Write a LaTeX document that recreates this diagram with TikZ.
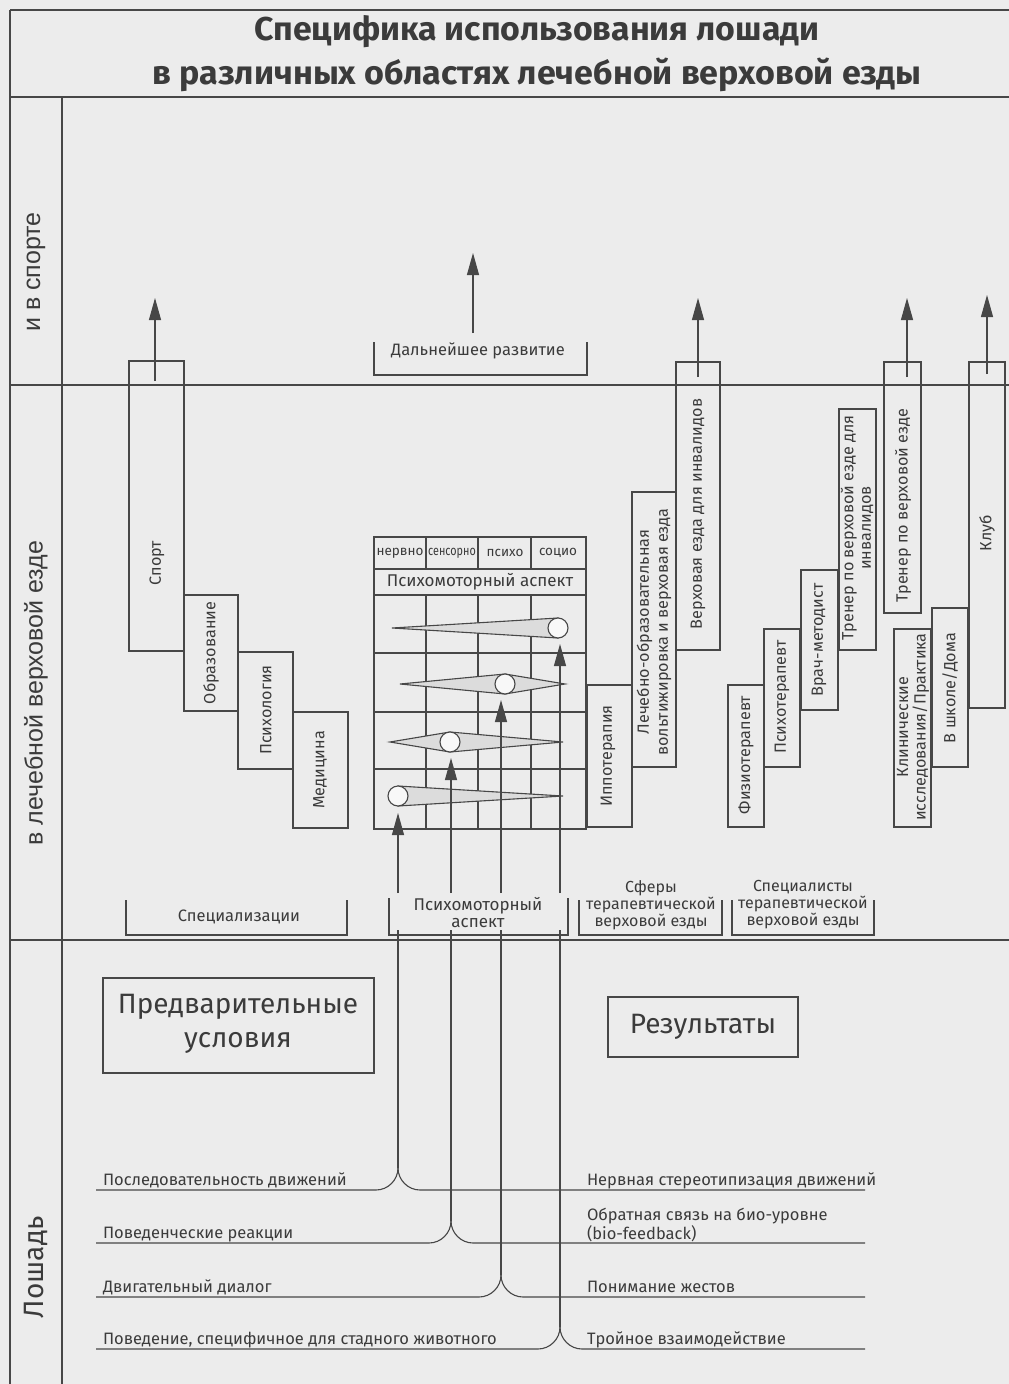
\documentclass[tikz,border=0pt]{standalone}
\usepackage{fontspec}
\usepackage{graphicx}
\setmainfont{Fira Sans}
\newfontfamily\arialf{Liberation Sans}
\usetikzlibrary{arrows.meta}
\definecolor{paper}{HTML}{ECECEC}
\definecolor{ink}{HTML}{474747}
\definecolor{txt}{HTML}{3B3B3B}
\definecolor{conefill}{HTML}{DCDCDC}
\definecolor{dotfill}{HTML}{F8F8F8}
\tikzset{
  every node/.style={inner sep=0pt, outer sep=0pt, text=txt},
  lbl/.style={font=\fontsize{16.5}{18}\selectfont},
  vlbl/.style={font=\fontsize{16.2}{18}\selectfont, rotate=90, align=center},
  vlbltwo/.style={font=\fontsize{16.2}{19}\selectfont, rotate=90, align=center},
  smalllbl/.style={font=\fontsize{13.5}{15}\selectfont},
  biglbl/.style={font=\fontsize{28}{34}\selectfont, align=center},
  bandlbl/.style={rotate=90, font=\arialf\fontsize{25}{27}\selectfont},
  brlbl/.style={font=\fontsize{16}{17}\selectfont, align=center},
  titlelbl/.style={font=\fontsize{33}{36}\selectfont\bfseries, anchor=base},
  upar/.style={draw=ink, line width=1.1pt, -{Triangle[length=22pt,width=12pt]}},
}
\begin{document}
\begin{tikzpicture}[x=1pt, y=-1pt, line width=1.1pt, draw=ink]
\useasboundingbox (0,0) rectangle (1009,1384);
\fill[paper] (0,0) rectangle (1009,1384);

% frame
\draw (10,10) -- (1009,10);
\draw (10,10) -- (10,1384);
\draw (10,97) -- (1009,97);
\draw (62,97) -- (62,1384);
\draw (10,385) -- (1009,385);
\draw (10,940) -- (1009,940);

% title
\node[titlelbl] (title1) at (537,40) {\resizebox{565pt}{\height}{Специфика использования лошади}};
\node[titlelbl] (title2) at (537,84) {\resizebox{769pt}{\height}{в различных областях лечебной верховой езды}};

% band labels
\node[bandlbl] (bandA) at (36,272) {и в спорте};
\node[bandlbl] (bandB) at (36,693) {в лечебной верховой езде};
\node[bandlbl, font=\fontsize{28}{30}\selectfont] (bandC) at (36,1267) {Лошадь};

% specialisations
\draw (129,361) rectangle (184,651);
\draw (184,595) rectangle (238,711);
\draw (238,652) rectangle (293,769);
\draw (293,712) rectangle (348,828);
\node[vlbl] (sport) at (157,563) {Спорт};
\node[vlbl] (obraz) at (211,653) {Образование};
\node[vlbl] (psych) at (266,710) {Психология};
\node[vlbl] (medic) at (320,770) {Медицина};

% spheres
\draw (587,685) rectangle (632,827);
\draw (632,492) rectangle (676,767);
\draw (676,362) rectangle (720,650);
\node[vlbl] (hippo) at (608,756) {Иппотерапия};
\node[vlbltwo] (volt) at (654,632) {Лечебно-образовательная\\вольтижировка и верховая езда};
\node[vlbl] (invride) at (698,514) {Верховая езда для инвалидов};

% specialists
\draw (728,685) rectangle (764,827);
\draw (764,629) rectangle (800,767);
\draw (801,570) rectangle (838,710);
\draw (839,409) rectangle (876,650);
\draw (884,362) rectangle (921,613);
\draw (894,629) rectangle (931,827);
\draw (932,608) rectangle (968,767);
\draw (969,362) rectangle (1005,708);
\node[vlbl] (physio) at (746,755) {Физиотерапевт};
\node[vlbl] (psyth) at (782,697) {Психотерапевт};
\node[vlbl] (doctor) at (819,640) {Врач-методист};
\node[vlbltwo, font=\fontsize{16.2}{17.5}\selectfont] (trinv) at (857,528) {Тренер по верховой езде для\\инвалидов};
\node[vlbl] (trainer) at (903,506) {Тренер по верховой езде};
\node[vlbltwo, font=\fontsize{16.2}{17.5}\selectfont] (clinic) at (913,727) {Клинические\\исследования/Практика};
\node[vlbl] (school) at (950,688) {В школе/Дома};
\node[vlbl] (club) at (987,533) {Клуб};

% upward arrows in the top band
\coordinate (sportS) at (155,381); \coordinate (sportE) at (155,298);
\coordinate (devS) at (473,333);   \coordinate (devE) at (473,253);
\coordinate (invS) at (698,377);   \coordinate (invE) at (698,298);
\coordinate (trS) at (907,377);    \coordinate (trE) at (907,298);
\coordinate (clubS) at (987,374);  \coordinate (clubE) at (987,295);
\draw[upar] (sportS) -- (sportE);
\draw[upar] (devS) -- (devE);
\draw[upar] (invS) -- (invE);
\draw[upar] (trS) -- (trE);
\draw[upar] (clubS) -- (clubE);

% further development bracket
\draw (374,342) -- (374,375) -- (587,375) -- (587,342);
\node[lbl] (dev) at (478,351) {Дальнейшее развитие};

% psychomotor table
\draw (374,537) rectangle (586,829);
\foreach \yy in {569,595,653,712,769} \draw (374,\yy) -- (586,\yy);
\foreach \xx in {426,478,531} {
  \draw (\xx,537) -- (\xx,569);
  \draw (\xx,595) -- (\xx,829);
}
\node[smalllbl] (nerv) at (400,553) {нервно};
\node[smalllbl] (sens) at (452,553) {\scalebox{0.8}[1]{сенсорно}};
\node[smalllbl] (psy) at (505,553) {психо};
\node[smalllbl] (soc) at (558,553) {социо};
\node[lbl, font=\fontsize{17}{18}\selectfont] (pma) at (480,582) {Психомоторный аспект};

% cones
\draw[fill=conefill] (392,628) -- (558,618) -- (558,638) -- cycle;
\draw[fill=conefill] (400,684) -- (505,674) -- (565,684) -- (505,694) -- cycle;
\draw[fill=conefill] (390,742) -- (450,732) -- (563,742) -- (450,752) -- cycle;
\draw[fill=conefill] (398,786) -- (563,796) -- (398,806) -- cycle;
\node[draw=ink, fill=dotfill, circle, minimum size=20pt, line width=1.1pt] (c4) at (558,628) {};
\node[draw=ink, fill=dotfill, circle, minimum size=20pt, line width=1.1pt] (c3) at (505,684) {};
\node[draw=ink, fill=dotfill, circle, minimum size=20pt, line width=1.1pt] (c2) at (450,742) {};
\node[draw=ink, fill=dotfill, circle, minimum size=20pt, line width=1.1pt] (c1) at (398,796) {};

% bottom brackets
\draw (126,900) -- (126,935) -- (347,935) -- (347,900);
\node[lbl] (spec) at (239,917) {Специализации};
\draw (389,898) -- (389,935) -- (568,935) -- (568,898);
\node[brlbl, font=\fontsize{17}{17}\selectfont] (pmb) at (478,913) {Психомоторный\\аспект};
\draw (579,900) -- (579,935) -- (722,935) -- (722,900);
\node[brlbl] (sph) at (651,905) {Сферы\\терапевтической\\верховой езды};
\draw (732,900) -- (732,935) -- (874,935) -- (874,900);
\node[brlbl] (spc) at (803,905) {Специалисты\\терапевтической\\верховой езды};

% lower band boxes
\draw (103,978) rectangle (374,1073);
\node[biglbl] (pre) at (238,1024) {Предварительные\\условия};
\draw (608,997) rectangle (798,1057);
\node[biglbl] (res) at (703,1027) {Результаты};

% fork lines with arrows into the table
\foreach \X/\Y/\T in {398/1190/813, 451/1243/758, 501/1297/700, 560/1349/644} {
  \coordinate (j\X) at (\X,\Y-22);
  \draw (96,\Y) -- (\X-22,\Y) .. controls (\X-10,\Y) and (\X,\Y-10) .. (j\X);
  \draw (j\X) .. controls (\X,\Y-10) and (\X+10,\Y) .. (\X+22,\Y) -- (865,\Y);
  \draw (j\X) -- (\X,930);
  \coordinate (a\X) at (\X,893);
  \coordinate (b\X) at (\X,\T);
  \draw[upar] (a\X) -- (b\X);
}

% left texts
\node[lbl, anchor=base west] (l1) at (103,1185) {Последовательность движений};
\node[lbl, anchor=base west] (l2) at (103,1238) {Поведенческие реакции};
\node[lbl, anchor=base west] (l3) at (103,1292) {Двигательный диалог};
\node[lbl, anchor=base west] (l4) at (103,1344) {Поведение, специфичное для стадного животного};
% right texts
\node[lbl, anchor=base west] (r1) at (587,1185) {Нервная стереотипизация движений};
\node[lbl, anchor=base west] (r2a) at (587,1220) {Обратная связь на био-уровне};
\node[lbl, anchor=base west] (r2b) at (587,1239) {(bio-feedback)};
\node[lbl, anchor=base west] (r3) at (587,1292) {Понимание жестов};
\node[lbl, anchor=base west] (r4) at (587,1344) {Тройное взаимодействие};
\end{tikzpicture}
\end{document}
